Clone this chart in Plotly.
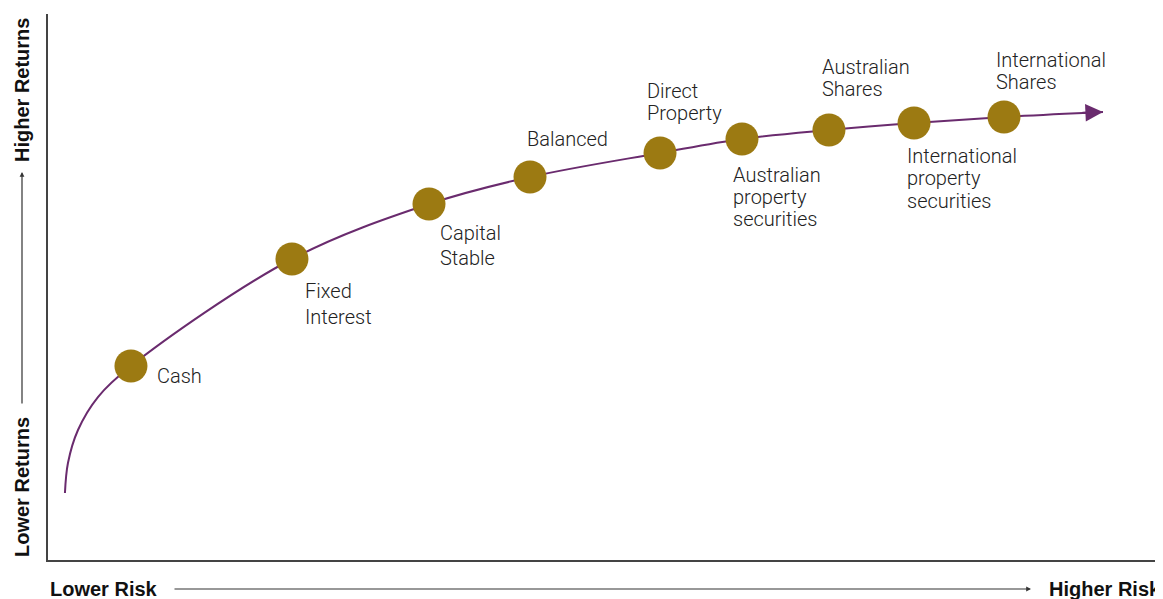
import plotly.graph_objects as go

# ---- data ----
categories = ["Cash", "Fixed Interest", "Capital Stable", "Balanced", "Direct Property",
              "Australian property securities", "Australian Shares",
              "International property securities", "International Shares"]
label_lines = [["Cash"], ["Fixed", "Interest"], ["Capital", "Stable"], ["Balanced"],
               ["Direct", "Property"], ["Australian", "property", "securities"],
               ["Australian", "Shares"], ["International", "property", "securities"],
               ["International", "Shares"]]
risk = [0.744, 2.188, 3.417, 4.323, 5.489, 6.224, 7.004, 7.767, 8.574]
returns = [3.553, 5.513, 6.520, 7.015, 7.454, 7.711, 7.875, 8.004, 8.114]
curve_start_risk = [0.152, 0.179, 0.269, 0.448]
curve_start_ret = [1.227, 1.777, 2.381, 2.985]
curve_end_risk = [9.462]
curve_end_ret = [8.205]

# ---- style ----
PURPLE = "#6A2B6E"
GOLD = "#9C7A12"
TEXT = "#222222"
PAGE_OFF = 8  # default body margin of the page
W, H = 1163 - PAGE_OFF, 599 - PAGE_OFF
L, R, T, B = 48 - PAGE_OFF, 0, 14 - PAGE_OFF, 39
PW, PH = W - L - R, H - T - B

def px_x(px):
    return (px - PAGE_OFF - L) / PW

def px_y(py):
    return (H - B - (py - PAGE_OFF)) / PH

# label offsets in pixels (dx, first-line dy downward, line spacing)
offsets = [(24, 10, 0), (11, 32, 26), (9, 29, 25), (-5, -38, 0), (-15, -62, 22),
           (-11, 36, 22), (-9, -63, 22), (-9, 33, 22.5), (-10, -56.5, 22)]

fig = go.Figure()

curve_x = curve_start_risk + risk + curve_end_risk
curve_y = curve_start_ret + returns + curve_end_ret
fig.add_trace(go.Scatter(x=curve_x, y=curve_y, mode="lines",
                         line=dict(color=PURPLE, width=2, shape="spline", smoothing=1.0),
                         hoverinfo="skip", showlegend=False))
fig.add_trace(go.Scatter(x=risk, y=returns, mode="markers", text=categories,
                         marker=dict(size=33, color=GOLD, line=dict(width=0)),
                         hovertemplate="%{text}<extra></extra>", showlegend=False))

annotations = []
# arrowhead on the curve end
annotations.append(dict(x=curve_end_risk[0], y=curve_end_ret[0], xref="x", yref="y",
                        ax=-22, ay=1, axref="pixel", ayref="pixel", text="",
                        showarrow=True, arrowhead=2, arrowsize=1.6, arrowwidth=2.2,
                        arrowcolor=PURPLE, standoff=0, startstandoff=0))

label_font = dict(family="Roboto, Liberation Sans, Arial, sans-serif", size=20,
                  color=TEXT, weight=300)
for i, lines in enumerate(label_lines):
    dx, dy, sp = offsets[i]
    for j, ln in enumerate(lines):
        annotations.append(dict(x=risk[i], y=returns[i], xref="x", yref="y",
                                text=ln, showarrow=False, xanchor="left", yanchor="middle",
                                xshift=dx, yshift=-(dy + j * sp), font=label_font))

bold = dict(family="Liberation Sans, Arial, sans-serif", size=20, color="#111111")
# y-axis labels
annotations.append(dict(xref="paper", yref="paper", x=px_x(22), y=px_y(90),
                        text="<b>Higher Returns</b>", textangle=-90, showarrow=False,
                        xanchor="center", yanchor="middle", font=bold))
annotations.append(dict(xref="paper", yref="paper", x=px_x(22), y=px_y(487),
                        text="<b>Lower Returns</b>", textangle=-90, showarrow=False,
                        xanchor="center", yanchor="middle", font=bold))
annotations.append(dict(xref="paper", yref="paper", x=px_x(22), y=px_y(172),
                        ax=0, ay=405 - 172, axref="pixel", ayref="pixel", text="",
                        showarrow=True, arrowhead=2, arrowsize=0.8, arrowwidth=1.2,
                        arrowcolor="#333333", standoff=0))
# x-axis labels
annotations.append(dict(xref="paper", yref="paper", x=px_x(48), y=px_y(589),
                        text="<b>Lower Risk</b>", showarrow=False,
                        xanchor="left", yanchor="middle", font=bold))
annotations.append(dict(xref="paper", yref="paper", x=px_x(1163), y=px_y(589),
                        text="<b>Higher Risk</b>", showarrow=False,
                        xanchor="right", yanchor="middle", font=bold))
annotations.append(dict(xref="paper", yref="paper", x=px_x(1031), y=px_y(589),
                        ax=173 - 1031, ay=0, axref="pixel", ayref="pixel", text="",
                        showarrow=True, arrowhead=2, arrowsize=0.8, arrowwidth=1.2,
                        arrowcolor="#333333", standoff=0))

fig.update_layout(
    width=W, height=H,
    margin=dict(l=L, r=R, t=T, b=B),
    paper_bgcolor="white", plot_bgcolor="white",
    xaxis=dict(range=[0, 10], showgrid=False, zeroline=False, showticklabels=False,
               ticks="", showline=True, linecolor="#444444", linewidth=1.5, fixedrange=True),
    yaxis=dict(range=[0, 10], showgrid=False, zeroline=False, showticklabels=False,
               ticks="", showline=True, linecolor="#444444", linewidth=1.5, fixedrange=True),
    annotations=annotations,
    showlegend=False,
)

fig.write_html("out.html")
